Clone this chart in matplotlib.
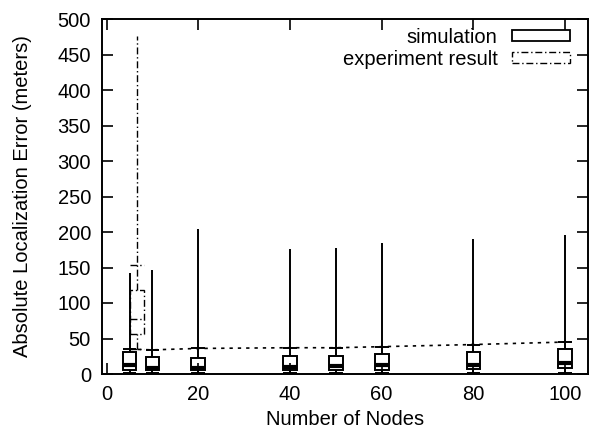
import matplotlib
matplotlib.use("Agg")
import matplotlib.pyplot as plt
from matplotlib.patches import Patch

plt.rcParams['font.family'] = ['Liberation Sans', 'DejaVu Sans']

# Simulation results: box statistics per network size
sim_nodes = [5, 10, 20, 40, 50, 60, 80, 100]
sim_min = [2, 2, 2, 2, 2, 2, 2, 2]
sim_q1 = [6, 6, 6, 6, 6, 6, 7, 8]
sim_median = [12, 9, 9, 10, 11, 12, 13, 15]
sim_q3 = [31, 24, 22, 25, 26, 28, 31, 35]
sim_max = [142, 147, 204, 176, 177, 184, 190, 196]
sim_mean = [35, 34, 36, 37, 37, 38.5, 41.5, 45]

# Experiment result (single deployment)
exp_nodes = [6.7]
exp_min = [35]
exp_q1 = [56]
exp_median = [77]
exp_q3 = [119]
exp_cap = [154]
exp_max = [476]

x_ticks = [0, 20, 40, 60, 80, 100]
y_ticks = [0, 50, 100, 150, 200, 250, 300, 350, 400, 450, 500]

W = 3.0  # box width in data units
FS = 14.5

fig = plt.figure(figsize=(5.95, 4.34), dpi=100)
ax = fig.add_axes([102/595, 60/434, 486/595, 355/434])

lw = 1.4
# simulation boxes
ax.bar(sim_nodes, [t - b for t, b in zip(sim_q3, sim_q1)], bottom=sim_q1, width=W,
       fill=False, edgecolor='black', linewidth=lw, zorder=3)
ax.vlines(sim_nodes, sim_q3, sim_max, color='black', linewidth=lw, zorder=2)
ax.vlines(sim_nodes, sim_min, sim_q1, color='black', linewidth=lw, zorder=2)
ax.hlines(sim_min, [x - W/2 for x in sim_nodes], [x + W/2 for x in sim_nodes],
          color='black', linewidth=lw, zorder=3)
ax.hlines(sim_median, [x - W/2 for x in sim_nodes], [x + W/2 for x in sim_nodes],
          color='black', linewidth=3, zorder=3)
# mean trend with short bars at each point
ax.plot(sim_nodes, sim_mean, color='black', linestyle=(0, (2, 3)), linewidth=1.2, zorder=2)
ax.hlines(sim_mean, [x - W/2 for x in sim_nodes], [x + W/2 for x in sim_nodes],
          color='black', linewidth=lw, zorder=3)

# experiment box
dd = (0, (5, 2, 1, 2))
ax.bar(exp_nodes, [t - b for t, b in zip(exp_q3, exp_q1)], bottom=exp_q1, width=W,
       fill=False, edgecolor='black', linewidth=1.0, linestyle=dd, zorder=3)
ax.vlines(exp_nodes, exp_q3, exp_max, color='black', linewidth=1.0, linestyles=[dd], zorder=2)
ax.vlines(exp_nodes, exp_min, exp_q1, color='black', linewidth=1.0, linestyles=[dd], zorder=2)
ax.hlines(exp_median, [x - W/2 for x in exp_nodes], [x + W/2 for x in exp_nodes],
          color='black', linewidth=1.0, linestyles=[dd], zorder=3)
ax.hlines(exp_cap, [x - W/2 for x in exp_nodes], [x + W/2 for x in exp_nodes],
          color='black', linewidth=1.0, linestyles=[dd], zorder=3)
ax.hlines(exp_min, [x - W/2 for x in exp_nodes], [x + W/2 for x in exp_nodes],
          color='black', linewidth=1.0, linestyles=[dd], zorder=3)

ax.set_xlim(-1, 105)
ax.set_ylim(0, 500)
ax.set_xticks(x_ticks)
ax.set_yticks(y_ticks)
ax.tick_params(direction='in', length=8, width=1.2, top=True, right=True,
               labelsize=FS, pad=8)
for s in ax.spines.values():
    s.set_linewidth(1.4)

ax.set_xlabel('Number of Nodes', fontsize=FS, labelpad=4)
ax.set_ylabel('Absolute Localization Error (meters)', fontsize=FS, labelpad=18)

handles = [Patch(facecolor='none', edgecolor='black', linewidth=1.3),
           Patch(facecolor='none', edgecolor='black', linewidth=1.0, linestyle=dd)]
ax.legend(handles, ['simulation', 'experiment result'], loc='upper right',
          bbox_to_anchor=(0.988, 1.01), frameon=False, markerfirst=False,
          fontsize=FS, handlelength=2.9, handleheight=0.45, labelspacing=0.15,
          handletextpad=0.7, borderaxespad=0.2)

fig.savefig('out.png', dpi=100)
